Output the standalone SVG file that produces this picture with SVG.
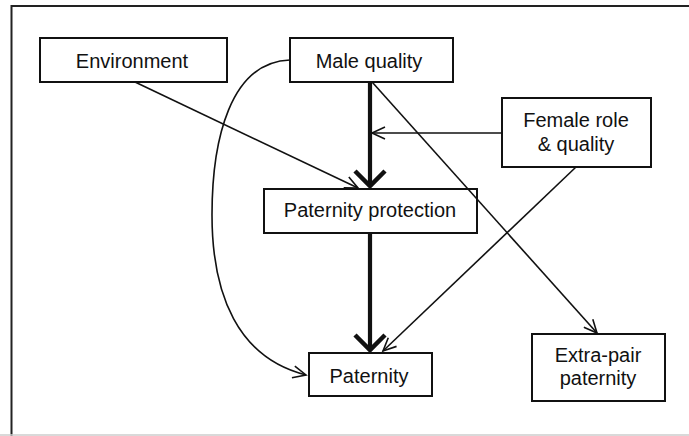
<svg xmlns="http://www.w3.org/2000/svg" width="689" height="436" viewBox="0 0 689 436">
<style>
.box{fill:#fff;stroke:#111;stroke-width:2}
.t{font-family:"Liberation Sans",Arial,sans-serif;font-size:20px;fill:#111;text-anchor:middle}
.thin{fill:none;stroke:#111;stroke-width:1.6}
.thick{fill:none;stroke:#111;stroke-width:4.2}
</style>
<defs>
<marker id="a" markerUnits="userSpaceOnUse" markerWidth="16" markerHeight="14" viewBox="0 0 16 14" refX="14" refY="7" orient="auto">
<path d="M1,1 L14,7 L1,13" fill="none" stroke="#111" stroke-width="1.6"/>
</marker>
<marker id="b" markerUnits="userSpaceOnUse" markerWidth="22" markerHeight="36" viewBox="0 0 22 36" refX="18" refY="18" orient="auto">
<path d="M3,3 L18,18 L3,33" fill="none" stroke="#111" stroke-width="4.5"/>
</marker>
</defs>
<rect width="689" height="436" fill="#fff"/>
<path d="M11.5,436 V6 H689" fill="none" stroke="#222" stroke-width="2"/>
<line x1="0" y1="435" x2="689" y2="435" stroke="#ccc" stroke-width="1.5"/>
<g id="environment"><rect class="box" x="40" y="38" width="187" height="44"/><text class="t" x="132" y="68">Environment</text></g>
<g id="male-quality"><rect class="box" x="290" y="38" width="163" height="44"/><text class="t" x="369" y="68">Male quality</text></g>
<g id="female-role"><rect class="box" x="502" y="98" width="149" height="69"/><text class="t" x="576" y="127">Female role</text><text class="t" x="576" y="151">&amp; quality</text></g>
<g id="paternity-protection"><rect class="box" x="264" y="189" width="213" height="44"/><text class="t" x="370" y="217">Paternity protection</text></g>
<g id="paternity"><rect class="box" x="309" y="353" width="123" height="43"/><text class="t" x="369" y="383">Paternity</text></g>
<g id="extra-pair"><rect class="box" x="532" y="334" width="133" height="67"/><text class="t" x="598" y="362">Extra-pair</text><text class="t" x="598" y="385">paternity</text></g>
<g id="connectors">
<line class="thick" x1="370" y1="82" x2="370" y2="186" marker-end="url(#b)"/>
<line class="thick" x1="370" y1="233" x2="370" y2="350" marker-end="url(#b)"/>
<line class="thin" x1="135" y1="82" x2="358" y2="188" marker-end="url(#a)"/>
<line class="thin" x1="502" y1="133" x2="372" y2="133" marker-end="url(#a)"/>
<line class="thin" x1="372.5" y1="82.5" x2="597" y2="333" marker-end="url(#a)"/>
<line class="thin" x1="576" y1="167" x2="383" y2="351" marker-end="url(#a)"/>
<path class="thin" d="M290,60 C230,62 212,140 212,215 C212,295 238,358 306,375" marker-end="url(#a)"/>
</g>
</svg>
